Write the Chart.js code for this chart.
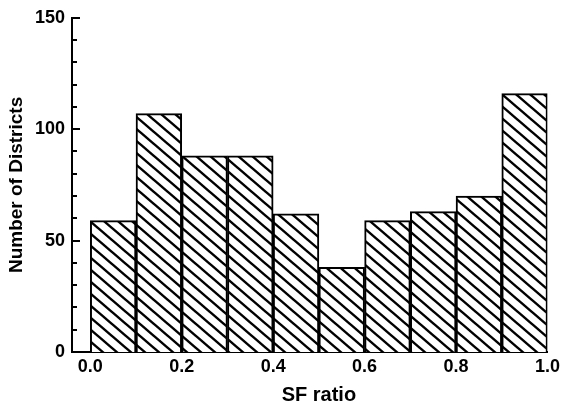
<!DOCTYPE html>
<html><head><meta charset="utf-8">
<script src="https://cdn.jsdelivr.net/npm/chart.js@4"></script>
<style>html,body{margin:0;padding:0;background:#fff}#wrap{width:564px;height:407px}</style>
</head><body><div id="wrap"><canvas id="c" width="564" height="407"></canvas></div>
<script>
// ---- data ----
const binStarts = [0.0, 0.1, 0.2, 0.3, 0.4, 0.5, 0.6, 0.7, 0.8, 0.9];
const binWidth = 0.1;
const counts = [59, 107, 88, 88, 62, 38, 59, 63, 70, 116];
const xTickValues = [0.0, 0.2, 0.4, 0.6, 0.8, 1.0];
const xTickLabels = ['0.0', '0.2', '0.4', '0.6', '0.8', '1.0'];
const yTickValues = [0, 50, 100, 150];
const yTickLabels = ['0', '50', '100', '150'];
const yMinorStep = 10;
const xTitle = 'SF ratio';
const yTitle = 'Number of Districts';

// ---- styling ----
const FONT = "'Liberation Sans', Arial, Helvetica, sans-serif";
Chart.defaults.color = '#000';
Chart.defaults.font.family = FONT;

function makeHatch() {
  const w = 14, h = 12;
  const c = document.createElement('canvas');
  c.width = w; c.height = h;
  const g = c.getContext('2d');
  g.fillStyle = '#fff';
  g.fillRect(0, 0, w, h);
  g.strokeStyle = '#000';
  g.lineWidth = 2.4;
  for (let k = -1; k <= 1; k++) {
    g.beginPath();
    g.moveTo(k * w - w, -h);
    g.lineTo(k * w + 2 * w, 2 * h);
    g.stroke();
  }
  return g.createPattern(c, 'repeat');
}
const ctx = document.getElementById('c').getContext('2d');
const hatch = makeHatch();

const barData = binStarts.map((s, i) => ({ x: s + binWidth / 2, y: counts[i] }));

const decorPlugin = {
  id: 'decor',
  afterDraw(chart) {
    const c = chart.ctx;
    const xs = chart.scales.x, ys = chart.scales.y;
    c.save();
    // inward ticks on y axis
    c.strokeStyle = '#000';
    c.lineWidth = 2;
    const x0 = xs.left;
    for (let v = ys.min; v <= ys.max; v += yMinorStep) {
      const y = Math.round(ys.getPixelForValue(v));
      const len = yTickValues.includes(v) ? 8 : 5;
      c.beginPath();
      c.moveTo(x0, y);
      c.lineTo(x0 + len, y);
      c.stroke();
    }
    // x axis title centred on the binned range
    const lo = binStarts[0], hi = binStarts[binStarts.length - 1] + binWidth;
    c.fillStyle = '#000';
    c.font = 'bold 20px ' + FONT;
    c.textAlign = 'center';
    c.textBaseline = 'middle';
    c.fillText(xTitle, xs.getPixelForValue((lo + hi) / 2), 395);
    c.restore();
  }
};

new Chart(ctx, {
  type: 'bar',
  data: {
    datasets: [{
      data: barData,
      backgroundColor: hatch,
      borderColor: '#000',
      borderWidth: 2,
      barPercentage: 1,
      categoryPercentage: 1
    }]
  },
  options: {
    responsive: false,
    animation: false,
    devicePixelRatio: 1,
    layout: { padding: { top: 14, right: 13, left: 0, bottom: 0 } },
    plugins: { legend: { display: false }, tooltip: { enabled: false } },
    scales: {
      x: {
        type: 'linear',
        min: -0.04,
        max: 1.0,
        offset: false,
        grid: { display: false, drawTicks: false },
        border: { display: true, color: '#000', width: 2 },
        afterBuildTicks: s => { s.ticks = xTickValues.map(v => ({ value: v })); },
        afterFit: s => { s.height = 55; },
        ticks: {
          autoSkip: false, maxRotation: 0, minRotation: 0, padding: 4,
          font: { size: 18, weight: 'bold' },
          callback: v => xTickLabels[xTickValues.findIndex(t => Math.abs(t - v) < 1e-9)]
        },
        title: { display: false }
      },
      y: {
        type: 'linear',
        min: 0,
        max: 150,
        grid: { display: false, drawTicks: false },
        border: { display: true, color: '#000', width: 2 },
        afterBuildTicks: s => { s.ticks = yTickValues.map(v => ({ value: v })); },
        afterFit: s => { s.width = 72; },
        ticks: {
          padding: 7,
          font: { size: 18, weight: 'bold' },
          callback: v => yTickLabels[yTickValues.indexOf(v)]
        },
        title: {
          display: true, text: yTitle,
          font: { size: 19, weight: 'bold' },
          padding: { top: 5, bottom: 0 }
        }
      }
    }
  },
  plugins: [decorPlugin]
});
</script>
</body></html>
